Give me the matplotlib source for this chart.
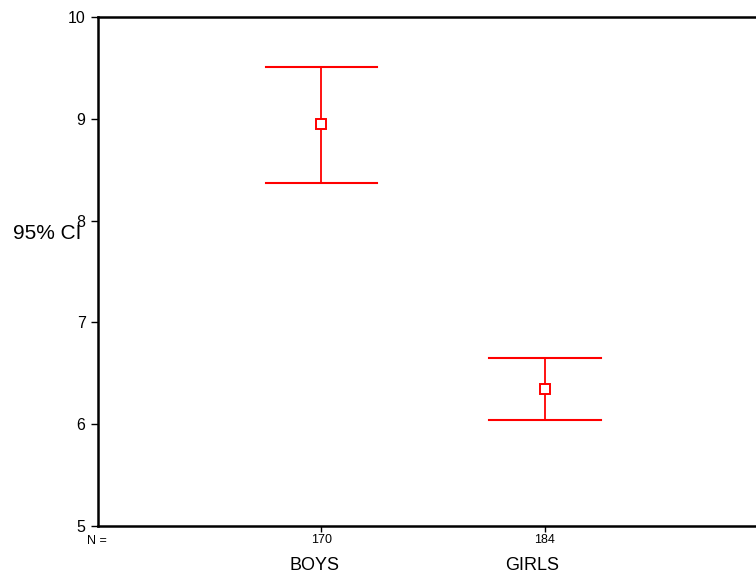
import matplotlib.pyplot as plt

plt.rcParams['font.family'] = ['Liberation Sans', 'DejaVu Sans']

groups = ['BOYS', 'GIRLS']
counts = [170, 184]
means = [8.95, 6.35]
lower = [8.37, 6.04]
upper = [9.51, 6.65]

fig = plt.figure(figsize=(7.56, 5.76), dpi=100)
ax = fig.add_axes([98 / 756, 1 - 526 / 576, 670 / 756, 509 / 576])

xs = [1, 2]
for x, m, lo, hi in zip(xs, means, lower, upper):
    ax.plot([x, x], [lo, hi], color='red', lw=1.3)
    ax.plot([x - 0.25, x + 0.25], [hi, hi], color='red', lw=1.5)
    ax.plot([x - 0.25, x + 0.25], [lo, lo], color='red', lw=1.5)
    ax.plot(x, m, marker='s', ms=7.5, mfc='white', mec='red', mew=1.4)

ax.set_xlim(0, 3)
ax.set_ylim(5, 10)
ax.set_yticks([5, 6, 7, 8, 9, 10])
ax.set_xticks(xs)
ax.set_xticklabels([str(c) for c in counts], fontsize=9)
ax.tick_params(axis='y', labelsize=11.5, length=5, width=1, direction='out', pad=4)
ax.tick_params(axis='x', length=4, width=1, direction='out', pad=2)
ax.spines['right'].set_visible(False)
for s in ['left', 'top', 'bottom']:
    ax.spines[s].set_linewidth(1.8)

# group names sit a little left of their tick
for x, g, dx in zip(xs, groups, [-7, -13]):
    ax.annotate(g, xy=(x, 0), xycoords=('data', 'axes fraction'),
                xytext=(dx, -39.5), textcoords='offset pixels',
                ha='center', va='center', fontsize=13)
ax.annotate('N =', xy=(0, 0), xycoords='axes fraction', xytext=(-1, -14.5),
            textcoords='offset pixels', ha='center', va='center', fontsize=9)
fig.text(13 / 756, 1 - 239 / 576, '95% CI', ha='left', va='baseline', fontsize=15)

fig.savefig('out.png', dpi=100)
